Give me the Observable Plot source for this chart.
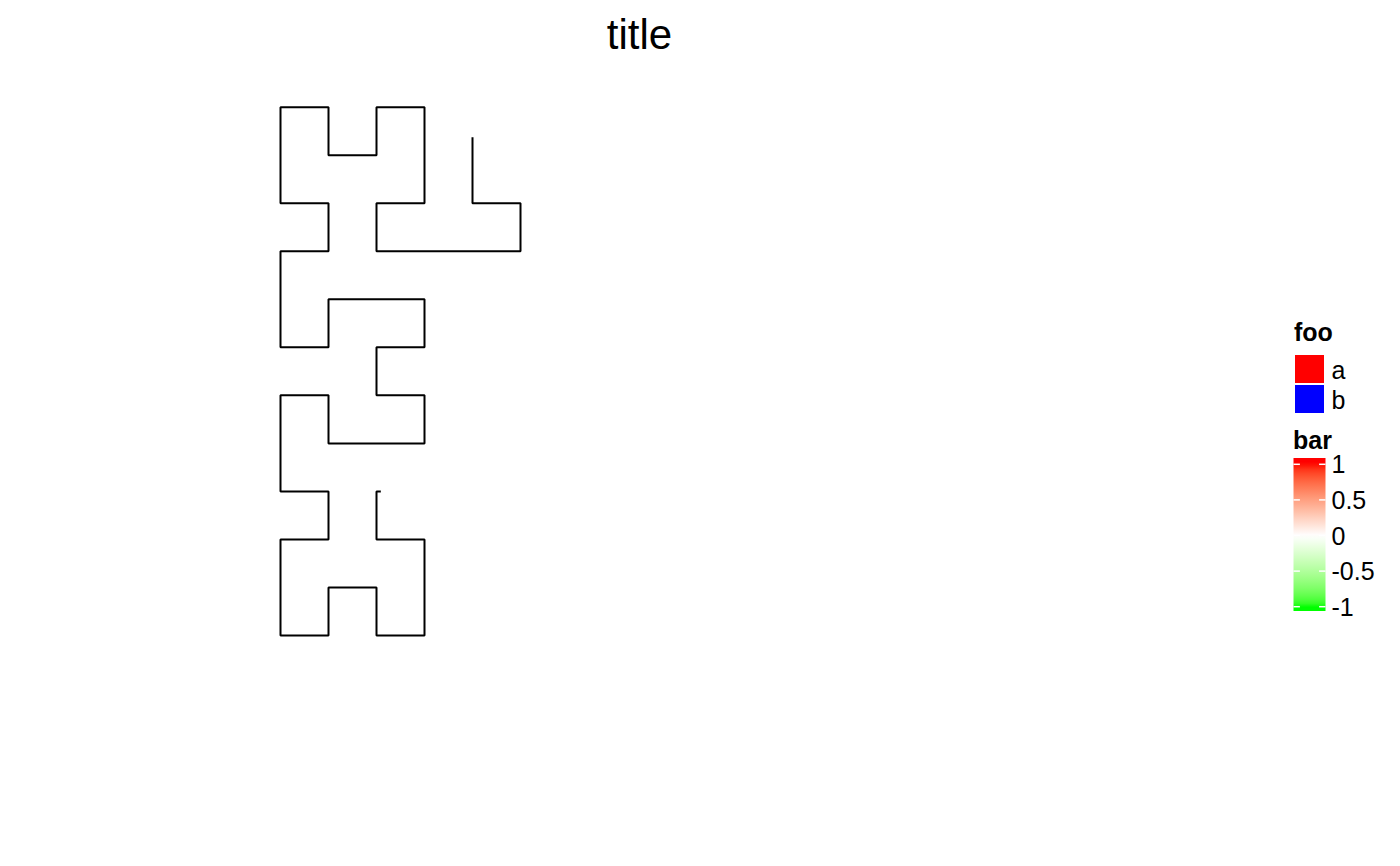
<!DOCTYPE html>
<html>
<head>
<meta charset="utf-8">
<script src="https://cdn.jsdelivr.net/npm/d3@7"></script>
<script src="https://cdn.jsdelivr.net/npm/@observablehq/plot@0.6"></script>
<style>
  html, body { margin: 0; padding: 0; background: #ffffff; }
  #wrap { position: relative; width: 1400px; height: 866px; overflow: hidden; font-family: "Liberation Sans", Arial, Helvetica, sans-serif; }
  #title { position: absolute; left: 0; top: 14px; width: 1279px; text-align: center; font-size: 42px; line-height: 42px; color: #000; }
  #plot { position: absolute; left: 0; top: 70px; }
  #legend { position: absolute; left: 1280px; top: 0; }
</style>
</head>
<body>
<div id="wrap">
  <div id="title"></div>
  <div id="plot"></div>
  <svg id="legend" width="120" height="866"></svg>
</div>
<script>
// ---- data ----
const titleText = "title";
const pathX = [2.09, 2, 2, 3, 3, 2, 2, 1, 1, 0, 0, 1, 1, 0, 0, 1, 1, 3, 3, 2, 2, 3, 3, 1, 1, 0, 0, 1, 1, 0, 0, 1, 1, 2, 2, 3, 3, 2, 2, 5, 5, 4, 4];
const pathY = [3, 3, 2, 2, 0, 0, 1, 1, 0, 0, 2, 2, 3, 3, 5, 5, 4, 4, 5, 5, 6, 6, 7, 7, 6, 6, 8, 8, 9, 9, 11, 11, 10, 10, 11, 11, 9, 9, 8, 8, 9, 9, 10.375];
const fooTitle = "foo";
const fooLevels = ["a", "b"];
const fooColors = ["#ff0000", "#0000ff"];
const barTitle = "bar";
const barBreaks = [-1, -0.5, 0, 0.5, 1];
const barLabels = ["-1", "-0.5", "0", "0.5", "1"];
const barColors = ["#00ff00", "#ffffff", "#ff0000"];

// ---- title ----
document.getElementById("title").textContent = titleText;

// ---- main plot ----
const pathData = pathX.map((x, i) => ({x, y: pathY[i], i}));
const chart = Plot.plot({
  width: 1280,
  height: 796,
  marginLeft: 280,
  marginRight: 760,
  marginTop: 36.7,
  marginBottom: 231,
  x: {domain: [0, 5], axis: null},
  y: {domain: [0, 11], axis: null},
  marks: [
    Plot.line(pathData, {x: "x", y: "y", stroke: "#000000", strokeWidth: 2, strokeLinejoin: "miter", strokeLinecap: "butt"})
  ]
});
document.getElementById("plot").appendChild(chart);

// ---- legends ----
const ox = 1280;
const svg = d3.select("#legend");
const fs = 25;
const ff = "Liberation Sans, Arial, sans-serif";

// discrete legend "foo"
svg.append("text").attr("x", 1294 - ox).attr("y", 341).attr("font-size", 25).attr("font-weight", "bold")
  .attr("font-family", ff).text(fooTitle);
fooLevels.forEach((lev, i) => {
  const y0 = 355 + i * 30;
  svg.append("rect").attr("x", 1295 - ox).attr("y", y0).attr("width", 29).attr("height", 28).attr("fill", fooColors[i]);
  svg.append("text").attr("x", 1331.5 - ox).attr("y", y0 + 23.5).attr("font-size", fs)
    .attr("font-family", ff).text(lev);
});

// continuous legend "bar"
svg.append("text").attr("x", 1293 - ox).attr("y", 449).attr("font-size", 25).attr("font-weight", "bold")
  .attr("font-family", ff).text(barTitle);

const ys = d3.scaleLinear().domain([-1, 1]).range([606.7, 464.3]);
const cs = d3.scaleLinear().domain([-1, 0, 1]).range(barColors).interpolate(d3.interpolateLab).clamp(true);
const barTop = 458, barBot = 611, barX0 = 1293.5, barW = 32;
const defs = svg.append("defs");
const grad = defs.append("linearGradient").attr("id", "bargrad").attr("x1", 0).attr("y1", 0).attr("x2", 0).attr("y2", 1);
const nStops = 40;
for (let k = 0; k <= nStops; k++) {
  const py = barTop + (barBot - barTop) * k / nStops;
  grad.append("stop").attr("offset", k / nStops).attr("stop-color", cs(ys.invert(py)));
}
svg.append("rect").attr("x", barX0 - ox).attr("y", barTop).attr("width", barW).attr("height", barBot - barTop).attr("fill", "url(#bargrad)");
barBreaks.forEach((b, i) => {
  const y = ys(b);
  svg.append("line").attr("x1", barX0 - ox).attr("x2", barX0 - ox + barW / 5).attr("y1", y).attr("y2", y).attr("stroke", "#ffffff").attr("stroke-width", 1.5);
  svg.append("line").attr("x1", barX0 - ox + barW * 4 / 5).attr("x2", barX0 - ox + barW).attr("y1", y).attr("y2", y).attr("stroke", "#ffffff").attr("stroke-width", 1.5);
  svg.append("text").attr("x", 1331.5 - ox).attr("y", y + 0.36 * fs).attr("font-size", fs)
    .attr("font-family", ff).text(barLabels[i]);
});
</script>
</body>
</html>
